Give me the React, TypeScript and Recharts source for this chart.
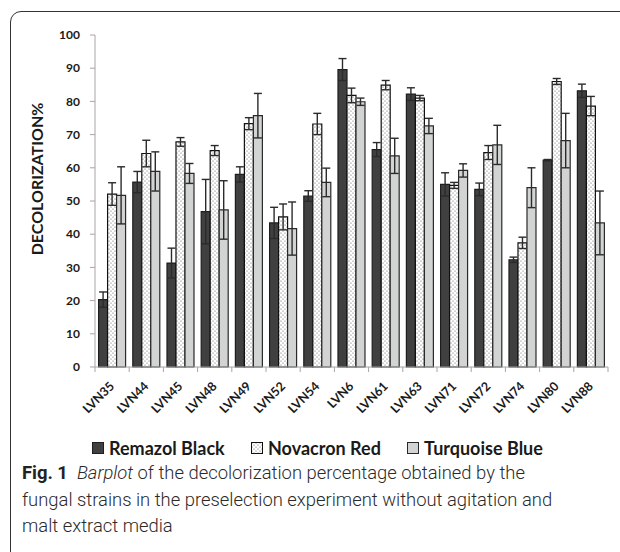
import { BarChart, Bar, XAxis, YAxis, ErrorBar } from "recharts";

const strains = ["LVN35", "LVN44", "LVN45", "LVN48", "LVN49", "LVN52", "LVN54", "LVN6", "LVN61", "LVN63", "LVN71", "LVN72", "LVN74", "LVN80", "LVN88"];
const remazol = [20.3, 55.7, 31.3, 46.8, 58.0, 43.4, 51.5, 89.6, 65.5, 82.2, 55.0, 53.5, 32.3, 62.3, 83.2];
const remazolErr = [2.3, 3.2, 4.5, 9.7, 2.3, 4.7, 1.6, 3.3, 2.1, 1.9, 3.5, 1.9, 0.8, 0.2, 2.0];
const novacron = [52.1, 64.3, 67.8, 65.2, 73.3, 45.2, 73.2, 81.8, 84.9, 81.0, 54.7, 64.6, 37.4, 86.0, 78.6];
const novacronErr = [3.4, 4.0, 1.3, 1.5, 1.8, 3.9, 3.2, 2.2, 1.4, 0.8, 0.9, 2.1, 1.7, 0.9, 2.9];
const turquoise = [51.7, 58.9, 58.3, 47.3, 75.7, 41.7, 55.6, 79.9, 63.6, 72.6, 59.2, 66.9, 54.0, 68.2, 43.4];
const turquoiseErr = [8.6, 5.9, 3.0, 8.8, 6.7, 8.0, 4.3, 1.1, 5.3, 2.3, 2.0, 5.9, 6.0, 8.2, 9.6];
const yTicks = [0, 10, 20, 30, 40, 50, 60, 70, 80, 90, 100];

const series = [
  { key: "remazol", err: "remazolErr", name: "Remazol Black", fill: "#404040", stroke: "#1e1e1e" },
  { key: "novacron", err: "novacronErr", name: "Novacron Red", fill: "url(#dots)", stroke: "#111" },
  { key: "turquoise", err: "turquoiseErr", name: "Turquoise Blue", fill: "#d2d3d3", stroke: "#2a2a2a" },
];

const data = strains.map((s, i) => ({
  strain: s,
  remazol: remazol[i],
  remazolErr: remazolErr[i],
  novacron: novacron[i],
  novacronErr: novacronErr[i],
  turquoise: turquoise[i],
  turquoiseErr: turquoiseErr[i],
}));

const FONT = "Lato, 'Open Sans', sans-serif";
const AXIS = "#a6a6a6";

function StrainTick(props: any) {
  const { x, y, payload, index } = props;
  const off = payload.offset || 0;
  const last = index === strains.length - 1;
  const tx = x + 3;
  const ty = y + 15;
  return (
    <g>
      <line x1={x - off} y1={y - 5} x2={x - off} y2={y} stroke={AXIS} />
      {last && <line x1={x + off} y1={y - 5} x2={x + off} y2={y} stroke={AXIS} />}
      <text
        x={tx}
        y={ty}
        transform={`rotate(-45 ${tx} ${ty})`}
        textAnchor="end"
        fontFamily={FONT}
        fontWeight={700}
        fontSize={12.5}
        fill="#1a1a1a"
      >
        {payload.value}
      </text>
    </g>
  );
}

function YLabel(props: any) {
  const vb = props.viewBox;
  const cx = 36;
  const cy = vb.y + vb.height / 2 - 22;
  return (
    <text
      x={cx}
      y={cy}
      transform={`rotate(-90 ${cx} ${cy})`}
      textAnchor="middle"
      dominantBaseline="central"
      fontFamily={FONT}
      fontWeight={700}
      fontSize={16}
      fill="#1a1a1a"
    >
      DECOLORIZATION%
    </text>
  );
}

function DotPattern({ id }: { id: string }) {
  return (
    <pattern id={id} width="4" height="4" patternUnits="userSpaceOnUse">
      <rect width="4" height="4" fill="#fff" />
      <circle cx="1" cy="1" r="0.5" fill="#3a3a3a" />
      <circle cx="3" cy="3" r="0.5" fill="#3a3a3a" />
    </pattern>
  );
}

function Swatch({ fill, stroke }: { fill: string; stroke: string }) {
  return (
    <svg width={12} height={12} style={{ display: "block" }}>
      <defs>
        <DotPattern id="dotsL" />
      </defs>
      <rect x={0.5} y={0.5} width={11} height={11} fill={fill === "url(#dots)" ? "url(#dotsL)" : fill} stroke={stroke} />
    </svg>
  );
}

const legendX = [92, 251, 407];

export default function App() {
  return (
    <div style={{ position: "absolute", left: 0, top: 0, width: 620, height: 552, overflow: "hidden", background: "#fff" }}>
      <div
        style={{
          position: "absolute",
          left: 10,
          top: 11,
          width: 640,
          height: 560,
          border: "1.5px solid #333",
          borderRadius: 11,
          boxSizing: "border-box",
        }}
      />
      <div style={{ position: "absolute", left: 0, top: 0 }}>
        <BarChart
          width={620}
          height={430}
          data={data}
          margin={{ top: 35, right: 12, left: 0, bottom: 30 }}
          barCategoryGap="10.5%"
          barGap={0}
        >
          <defs>
            <DotPattern id="dots" />
          </defs>
          <XAxis
            dataKey="strain"
            interval={0}
            height={33}
            tickLine={false}
            tickSize={5}
            tickMargin={0}
            axisLine={{ stroke: AXIS }}
            tick={<StrainTick />}
          />
          <YAxis
            width={95}
            domain={[0, 100]}
            ticks={yTicks}
            interval={0}
            tickSize={5}
            tickMargin={10}
            axisLine={{ stroke: AXIS }}
            tickLine={{ stroke: AXIS }}
            tick={{ fontFamily: FONT, fontWeight: 700, fontSize: 12, fill: "#1a1a1a" }}
            label={<YLabel />}
          />
          {series.map((s) => (
            <Bar
              key={s.key}
              dataKey={s.key}
              name={s.name}
              fill={s.fill}
              stroke={s.stroke}
              strokeWidth={1.2}
              isAnimationActive={false}
            >
              <ErrorBar dataKey={s.err} width={4} stroke="#2b2b2b" strokeWidth={1.4} direction="y" />
            </Bar>
          ))}
        </BarChart>
      </div>
      {series.map((s, i) => (
        <div
          key={s.key}
          style={{
            position: "absolute",
            left: legendX[i],
            top: 437,
            display: "flex",
            alignItems: "center",
            gap: 5,
            fontFamily: FONT,
            fontWeight: 700,
            fontSize: 18,
            color: "#1a1a1a",
            lineHeight: "22px",
          }}
        >
          <Swatch fill={s.fill} stroke={s.stroke} />
          <span>{s.name}</span>
        </div>
      ))}
      <div
        style={{
          position: "absolute",
          left: 22,
          top: 460,
          width: 595,
          fontFamily: "Roboto, 'Noto Sans', sans-serif",
          fontWeight: 300,
          fontSize: 18.4,
          lineHeight: "26.5px",
          color: "#2a2a2a",
          whiteSpace: "nowrap",
        }}
      >
        <b style={{ fontWeight: 700, color: "#222" }}>Fig. 1</b>
        {"\u00a0\u00a0"}
        <i>Barplot</i> of the decolorization percentage obtained by the
        <br />
        fungal strains in the preselection experiment without agitation and
        <br />
        malt extract media
      </div>
    </div>
  );
}
